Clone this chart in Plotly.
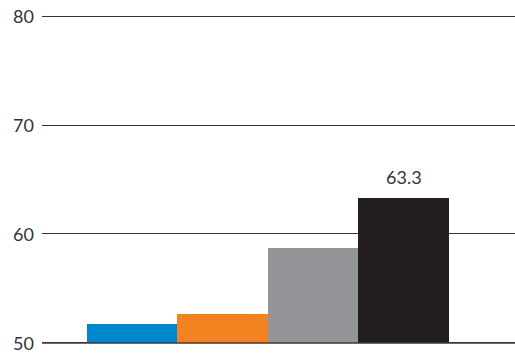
import plotly.graph_objects as go

# Series shown as adjacent bars
categories = ["A", "B", "C", "D"]
values = [51.7, 52.7, 58.7, 63.3]
colors = ["#0088CC", "#F58220", "#939598", "#231F20"]
y_ticks = [50, 60, 70, 80]
labeled_index = 3

FONT = "Lato, Open Sans, sans-serif"
TEXT = "#333333"

fig = go.Figure()
fig.add_trace(go.Bar(
    x=list(range(len(categories))),
    y=[v - y_ticks[0] for v in values],
    base=y_ticks[0],
    width=1,
    marker=dict(color=colors, line=dict(width=0)),
    hoverinfo="skip",
))

fig.add_annotation(
    x=labeled_index, y=values[labeled_index],
    text=f"{values[labeled_index]:.1f}",
    showarrow=False, yanchor="bottom", yshift=8,
    font=dict(family=FONT, size=18, color=TEXT),
)

# Axis labels placed beside each gridline
for t in y_ticks:
    fig.add_annotation(
        xref="paper", x=0, yref="y", y=t, text=str(t),
        showarrow=False, xanchor="right", yanchor="middle", xshift=-6,
        font=dict(family=FONT, size=18, color=TEXT),
    )

# Baseline drawn a touch heavier than the gridlines
fig.add_shape(type="line", xref="paper", x0=0, x1=1, yref="y",
              y0=y_ticks[0], y1=y_ticks[0],
              line=dict(color="#3a3a3a", width=1.5), layer="above")

fig.update_layout(
    width=515, height=353,
    margin=dict(l=42, r=0, t=15, b=9),
    paper_bgcolor="white", plot_bgcolor="white",
    showlegend=False,
    bargap=0,
    xaxis=dict(range=[-0.997, 4.23], showticklabels=False, showgrid=False,
               zeroline=False, showline=False, fixedrange=True),
    yaxis=dict(range=[49.9, 80.1], tickvals=y_ticks, showgrid=True,
               gridcolor="#333333", gridwidth=1, zeroline=False,
               showline=False, ticks="", showticklabels=False),
)

fig.write_html("out.html")
